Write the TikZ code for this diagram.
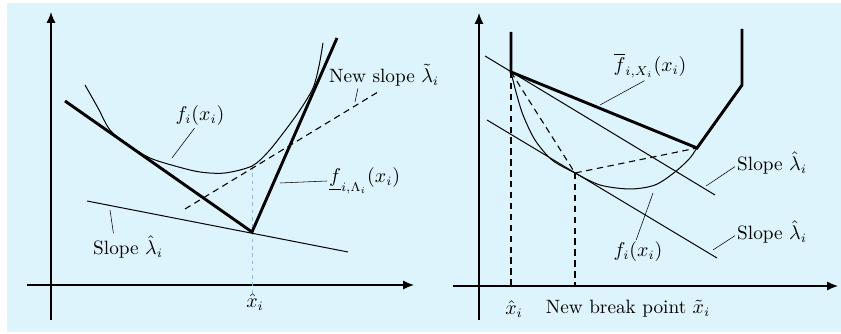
\documentclass[tikz,border=0pt]{standalone}
\usepackage{amsmath}
\usepackage{amssymb}
\usepackage{xcolor}
\usetikzlibrary{arrows.meta}
\definecolor{panelblue}{RGB}{222,244,252}
\definecolor{guideblue}{RGB}{150,180,225}

\tikzset{
  axis/.style={line width=0.7pt, -{Latex[length=6pt,width=5pt]}},
  thin curve/.style={line width=0.55pt},
  heavy/.style={line width=1.6pt},
  dashline/.style={line width=0.6pt, dash pattern=on 3.5pt off 2.5pt},
  heavydash/.style={line width=1.1pt, dash pattern=on 3.5pt off 2.5pt},
  leader/.style={line width=0.3pt},
  lbl/.style={inner sep=1pt, font=\fontsize{10.6}{12.7}\selectfont}
}

\begin{document}
\begin{tikzpicture}[x=0.55pt, y=-0.55pt]
\useasboundingbox (0,0) rectangle (841,334);
\fill[panelblue] (7,3) rectangle (841,332);

% left panel
\coordinate (ly0) at (51,320);
\coordinate (ly1) at (51,12);
\coordinate (lx0) at (27,285);
\coordinate (lx1) at (414,285);
\draw[axis] (ly0) -- (ly1);
\draw[axis] (lx0) -- (lx1);

\coordinate (kink) at (252,232);
\coordinate (tanpt) at (252,166);
\coordinate (guide) at (252,293);
\draw[guideblue, line width=0.4pt, dash pattern=on 2pt off 2pt] (tanpt) -- (guide);

\draw[thin curve] plot[smooth] coordinates {(85,85) (98,108) (110,130) (128,145) (150,158) (175,166)
  (200,172) (225,173) (252,166) (268,152) (284,132) (300,110) (313,88) (319,66) (323,43)};

\coordinate (hs0) at (87,201);
\coordinate (hs1) at (348,252);
\draw[thin curve] (hs0) -- (hs1);

\coordinate (ns0) at (185,209);
\coordinate (ns1) at (378,92);
\draw[dashline] (ns0) -- (ns1);

\coordinate (lowA) at (65,101);
\coordinate (lowB) at (337,38);
\draw[heavy, line join=miter] (lowA) -- (kink) -- (lowB);

\node[lbl] (fxL) at (200,116) {$f_i(x_i)$};
\coordinate (fxLa) at (172,158);
\draw[leader] ([xshift=-3pt]fxL.south) -- (fxLa);

\node[lbl, anchor=west] (newslope) at (327,75) {New slope $\tilde{\lambda}_i$};
\coordinate (newslopea) at (355,102);
\draw[leader] ([xshift=17pt]newslope.south west) -- (newslopea);

\node[lbl, anchor=west] (flow) at (327,181) {$\underline{f}_{i,\Lambda_i}(x_i)$};
\coordinate (flowa) at (280,183);
\draw[leader] (flowa) -- (flow.west);

\node[lbl] (slopeL) at (128,247) {Slope $\hat{\lambda}_i$};
\coordinate (slopeLa) at (110,210);
\draw[leader] ([xshift=-8pt]slopeL.north) -- (slopeLa);

\node[lbl] (xhatL) at (255,302) {$\hat{x}_i$};

% right panel
\coordinate (ry0) at (479,320);
\coordinate (ry1) at (479,13);
\coordinate (rx0) at (453,286);
\coordinate (rx1) at (838,286);
\draw[axis] (ry0) -- (ry1);
\draw[axis] (rx0) -- (rx1);

\coordinate (A) at (511,72);
\coordinate (B) at (697,148);
\coordinate (C) at (742,85);
\coordinate (D) at (575,173);
\coordinate (Atop) at (511,32);
\coordinate (Ctop) at (742,29);
\coordinate (Afoot) at (511,286);
\coordinate (Dfoot) at (575,286);

\draw[heavydash] (A) -- (Afoot);
\draw[heavydash] (D) -- (Dfoot);
\draw[dashline] (A) -- (D) -- (B);

\draw[thin curve] plot[smooth] coordinates {(511,72) (516,92) (523,115) (535,140) (552,160) (575,173)
  (600,185) (630,189) (655,185) (675,172) (690,158) (697,148) (719,118) (742,86)};

\coordinate (up0) at (485,56);
\coordinate (up1) at (715,195);
\draw[thin curve] (up0) -- (up1);
\coordinate (dn0) at (487,120);
\coordinate (dn1) at (717,258);
\draw[thin curve] (dn0) -- (dn1);

\draw[heavy, line join=miter] (Atop) -- (A) -- (B) -- (C) -- (Ctop);

\node[lbl] (fbar) at (650,66) {$\overline{f}_{i,X_i}(x_i)$};
\coordinate (fbara) at (600,105);
\draw[leader] (fbara) -- ([xshift=-3pt]fbar.south);

\node[lbl, anchor=west] (slopeR1) at (735,163) {Slope $\hat{\lambda}_i$};
\coordinate (slopeR1a) at (706,186);
\draw[leader] (slopeR1a) -- ([yshift=-2pt]slopeR1.west);

\node[lbl, anchor=west] (slopeR2) at (735,232) {Slope $\hat{\lambda}_i$};
\coordinate (slopeR2a) at (713,250);
\draw[leader] (slopeR2a) -- ([yshift=-2pt]slopeR2.west);

\node[lbl] (fR) at (638,252) {$f_i(x_i)$};
\coordinate (fRa) at (653,193);
\draw[leader] (fRa) -- ([xshift=-1pt]fR.north);

\node[lbl] (xhatR) at (514,309) {$\hat{x}_i$};
\node[lbl] (nbp) at (628,309) {New break point $\tilde{x}_i$};
\end{tikzpicture}
\end{document}
